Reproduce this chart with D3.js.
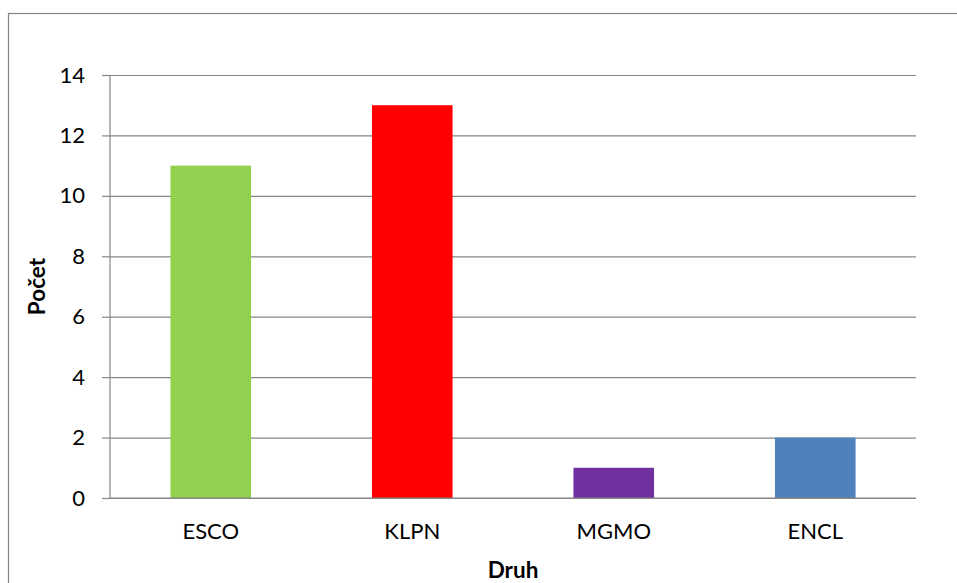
<!DOCTYPE html>
<html>
<head>
<meta charset="utf-8">
<script src="https://cdn.jsdelivr.net/npm/d3@7"></script>
<style>
  html, body { margin: 0; padding: 0; background: #fff; }
  svg { display: block; }
  text { font-family: Lato, "Open Sans", sans-serif; fill: #000; }
</style>
</head>
<body>
<svg id="chart" width="957" height="583"></svg>
<script>
// Counts per species code
const categories = ["ESCO", "KLPN", "MGMO", "ENCL"];
const counts = [11, 13, 1, 2];
const barColors = ["#92D050", "#FF0000", "#7030A0", "#4F81BD"];
const yTicks = [0, 2, 4, 6, 8, 10, 12, 14];
const xTitle = "Druh";
const yTitle = "Počet";

const svg = d3.select("#chart");
const plot = { left: 110, right: 916, top: 75, bottom: 498 };
const gridColor = "#868686";
const labelSize = 22;
const titleSize = 22.5;

// Outer chart frame
svg.append("rect")
  .attr("x", 8.5).attr("y", 13.5)
  .attr("width", 960).attr("height", 600)
  .attr("fill", "none")
  .attr("stroke", gridColor)
  .attr("stroke-width", 1.2);

const x = d3.scaleBand()
  .domain(categories)
  .range([plot.left, plot.right])
  .paddingInner(0.6)
  .paddingOuter(0.3);

const y = d3.scaleLinear()
  .domain([0, 14])
  .range([plot.bottom, plot.top]);

// Horizontal gridlines with short tick marks on the left
const yAxis = d3.axisLeft(y)
  .tickValues(yTicks)
  .tickSize(8)
  .tickPadding(17)
  .tickFormat(d3.format("d"));

const gy = svg.append("g")
  .attr("transform", `translate(${plot.left},0)`)
  .call(yAxis);
gy.select(".domain").remove();
gy.selectAll(".tick line").attr("stroke", gridColor).attr("stroke-width", 1.2);
gy.selectAll(".tick text")
  .attr("font-size", labelSize)
  .attr("font-family", "Lato, sans-serif")
  .attr("fill", "#000");
gy.selectAll(".tick")
  .append("line")
  .attr("x1", 0).attr("x2", plot.right - plot.left)
  .attr("stroke", gridColor).attr("stroke-width", 1.2);

// Bars
svg.append("g")
  .selectAll("rect")
  .data(categories)
  .join("rect")
  .attr("x", d => x(d))
  .attr("width", x.bandwidth())
  .attr("y", (d, i) => y(counts[i]))
  .attr("height", (d, i) => y(0) - y(counts[i]))
  .attr("fill", (d, i) => barColors[i]);

// Value axis line
svg.append("line")
  .attr("x1", plot.left).attr("x2", plot.left)
  .attr("y1", plot.top).attr("y2", plot.bottom)
  .attr("stroke", gridColor).attr("stroke-width", 1.2);

// Category axis
const xAxis = d3.axisBottom(x).tickSize(0).tickPadding(25);
const gx = svg.append("g")
  .attr("transform", `translate(0,${plot.bottom})`)
  .call(xAxis);
gx.select(".domain").remove();
gx.selectAll(".tick text")
  .attr("font-size", labelSize)
  .attr("font-family", "Lato, sans-serif")
  .attr("fill", "#000");
svg.append("line")
  .attr("x1", plot.left).attr("x2", plot.right)
  .attr("y1", plot.bottom).attr("y2", plot.bottom)
  .attr("stroke", gridColor).attr("stroke-width", 1.2);

// Axis titles
svg.append("text")
  .attr("x", (plot.left + plot.right) / 2)
  .attr("y", 578)
  .attr("text-anchor", "middle")
  .attr("font-size", titleSize)
  .attr("font-weight", "bold")
  .text(xTitle);

svg.append("text")
  .attr("transform", `translate(45,${(plot.top + plot.bottom) / 2}) rotate(-90)`)
  .attr("text-anchor", "middle")
  .attr("font-size", titleSize)
  .attr("font-weight", "bold")
  .text(yTitle);
</script>
</body>
</html>
